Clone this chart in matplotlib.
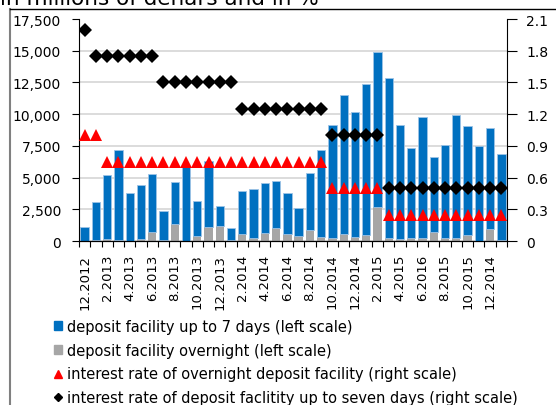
import numpy as np
import matplotlib
matplotlib.use('Agg')
import matplotlib.pyplot as plt
from matplotlib.patches import Patch
from matplotlib.lines import Line2D

# monthly values, 12.2012 - 1.2016
seven_days = [1100, 3020, 5020, 7120, 3800, 4270, 4540, 2290, 3310, 5850,
              2780, 5200, 1560, 950, 3400, 3870, 3890, 3680, 3210, 2210,
              4470, 6870, 8920, 10890, 9820, 11840, 12210, 12660, 8950, 7110,
              9580, 5920, 7290, 9690, 8580, 7470, 8000, 6770]
overnight = [0, 80, 180, 80, 0, 180, 710, 80, 1340, 0,
             370, 1100, 1180, 80, 550, 210, 660, 1030, 550, 370,
             870, 290, 260, 580, 340, 500, 2710, 210, 180, 210,
             210, 710, 240, 260, 470, 0, 920, 100]
rate_overnight = [1.0]*2 + [0.75]*20 + [0.5]*5 + [0.25]*11
rate_seven = [2.0] + [1.75]*6 + [1.5]*7 + [1.25]*8 + [1.0]*5 + [0.5]*11
tick_labels = ['12.2012', '2.2013', '4.2013', '6.2013', '8.2013', '10.2013',
               '12.2013', '2.2014', '4.2014', '6.2014', '8.2014', '10.2014',
               '12.2014', '2.2015', '4.2015', '6.2016', '8.2015', '10.2015',
               '12.2014']

blue = '#0070C0'
grey = '#A6A6A6'
x = np.arange(len(seven_days))

fig = plt.figure(figsize=(5.56, 4.06), dpi=100)
ax = fig.add_axes([79/556, 1-242/406, 428/556, 222/406])

ax.bar(x, overnight, width=0.74, color=grey, zorder=2)
ax.bar(x, seven_days, bottom=overnight, width=0.74, color=blue,
       edgecolor='#9DC3E6', linewidth=0.6, zorder=2)

ax.set_xlim(-0.5, len(x)-0.5)
ax.set_ylim(0, 17500)
ax.set_yticks(np.arange(0, 17501, 2500))
ax.set_yticklabels([f'{v:,}' for v in range(0, 17501, 2500)], fontsize=10)
ax.yaxis.grid(True, color='#D9D9D9', linewidth=1.3)
ax.get_ygridlines()[-1].set_visible(False)
ax.set_axisbelow(True)
ax.tick_params(axis='y', direction='out', length=5, width=0.8, pad=8)

ax.set_xticks(x[::2])
ax.set_xticklabels(tick_labels, rotation=90, fontsize=9.5)
ax.set_xticks(np.arange(-0.5, len(x)), minor=True)
ax.tick_params(axis='x', which='major', length=0, pad=9)
ax.tick_params(axis='x', which='minor', direction='out', length=4, width=0.8)
ax.spines['top'].set_visible(False)
ax.spines['right'].set_visible(False)

ax2 = ax.twinx()
ax2.plot(x, rate_overnight, '^', color='red', markersize=8.5, markeredgewidth=0)
ax2.plot(x, rate_seven, 'D', color='black', markersize=7, markeredgewidth=0)
ax2.set_ylim(0, 2.1)
ax2.set_yticks(np.arange(0, 2.11, 0.3))
ax2.set_yticklabels(['0', '0.3', '0.6', '0.9', '1.2', '1.5', '1.8', '2.1'], fontsize=10)
ax2.tick_params(axis='y', direction='out', length=7, width=0.8, pad=7)
ax2.spines['top'].set_visible(False)
ax2.spines['left'].set_visible(False)

# outer frame and title (cut at top, as in the source)
fig.add_artist(Line2D([10/556, 10/556], [0, 1-10/406], color='#808080', linewidth=1.5))
fig.add_artist(Line2D([10/556, 1], [1-10/406, 1-10/406], color='black', linewidth=1))
fig.text(0.0, 1-5/406, 'in millions of denars and in %', fontsize=15.5, va='baseline')

handles = [Patch(color=blue), Patch(color=grey),
           Line2D([], [], marker='^', color='red', linestyle='none', markersize=5.5),
           Line2D([], [], marker='D', color='black', linestyle='none', markersize=4)]
labels = ['deposit facility up to 7 days (left scale)',
          'deposit facility overnight (left scale)',
          'interest rate of overnight deposit facility (right scale)',
          'interest rate of deposit faclitity up to seven days (right scale)']
fig.legend(handles, labels, loc='upper left', bbox_to_anchor=(54/556, 1-320/406),
           frameon=False, fontsize=10.5, handlelength=0.55, handleheight=0.55,
           handletextpad=0.35, labelspacing=0.6, borderpad=0, borderaxespad=0)

plt.savefig('out.png')
